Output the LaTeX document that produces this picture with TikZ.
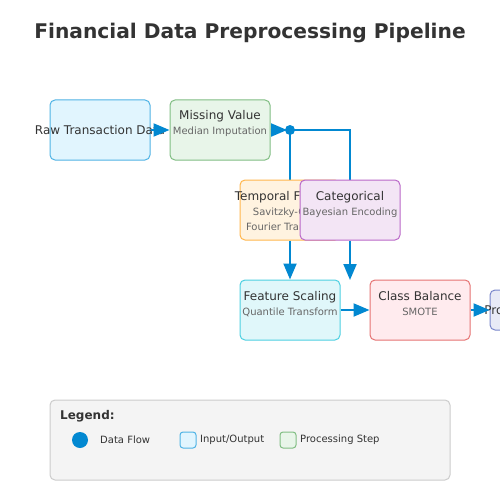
\documentclass[tikz,border=0pt]{standalone}
\usepackage{fontspec}
\setmainfont{DejaVu Sans}
\usetikzlibrary{arrows.meta}
\definecolor{flow}{HTML}{0288D1}
\definecolor{txt}{HTML}{333333}
\definecolor{subtxt}{HTML}{666666}
\tikzset{
  box/.style={draw, rounded corners=5pt, line width=1pt, minimum width=100pt, minimum height=60pt, inner sep=0pt},
  ttl/.style={font=\fontsize{12}{14}\selectfont, text=txt, inner sep=0pt, anchor=base},
  sub/.style={font=\fontsize{10}{12}\selectfont, text=subtxt, inner sep=0pt, anchor=base},
  flowline/.style={draw=flow, line width=2pt},
  flowarrow/.style={flowline, -{Triangle[length=16pt,width=13pt]}},
  legtxt/.style={font=\fontsize{10}{12}\selectfont, text=txt, anchor=west, inner sep=0pt},
}
\begin{document}
\begin{tikzpicture}[x=1pt,y=-1pt]
\useasboundingbox (0,0) rectangle (500,500);
\clip (0,0) rectangle (500,500);
\fill[white] (0,0) rectangle (500,500);
% title
\node[font=\bfseries\fontsize{20.2}{24}\selectfont, text=txt] (title) at (250,33) {Financial Data Preprocessing Pipeline};
% coordinates
\coordinate (j) at (290,130);
\coordinate (catend) at (350,280);
% connectors (behind boxes)
\draw[flowline] (j) -- (290,180) coordinate (tn);
\draw[flowline] (j) -| (350,180) coordinate (cn);
% boxes
\node[box, fill={rgb,255:red,225;green,245;blue,254}, draw={rgb,255:red,79;green,179;blue,229}] (raw) at (100,130) {};
\node[ttl, anchor=center] (rawt) at (100,130) {Raw Transaction Data};
\node[box, fill={rgb,255:red,232;green,245;blue,233}, draw={rgb,255:red,129;green,190;blue,131}] (mv) at (220,130) {};
\node[ttl] (mvt) at (220,120) {Missing Value};
\node[sub] (mvs) at (220,135) {Median Imputation};
\node[box, fill={rgb,255:red,255;green,243;blue,224}, draw={rgb,255:red,255;green,183;blue,77}] (tf) at (290,210) {};
\node[ttl] (tft) at (290,200) {Temporal Features};
\node[sub] (tfs) at (290,215) {Savitzky-Golay};
\node[sub] (tfs2) at (290,230) {Fourier Transform};
\node[box, fill={rgb,255:red,243;green,229;blue,245}, draw={rgb,255:red,186;green,104;blue,200}] (cat) at (350,210) {};
\node[ttl] (catt) at (350,200) {Categorical};
\node[sub] (cats) at (350,215) {Bayesian Encoding};
\node[box, fill={rgb,255:red,224;green,247;blue,250}, draw={rgb,255:red,77;green,208;blue,225}] (fs) at (290,310) {};
\node[ttl] (fst) at (290,300) {Feature Scaling};
\node[sub] (fss) at (290,315) {Quantile Transform};
\node[box, fill={rgb,255:red,255;green,235;blue,238}, draw={rgb,255:red,229;green,115;blue,115}] (cb) at (420,310) {};
\node[ttl] (cbt) at (420,300) {Class Balance};
\node[sub] (cbs) at (420,315) {SMOTE};
\node[box, minimum height=40pt, fill={rgb,255:red,232;green,234;blue,246}, draw={rgb,255:red,121;green,134;blue,203}] (pd) at (540,310) {};
\node[ttl, anchor=center] (pdt) at (540,310) {Processed Dataset};
% arrows
\draw[flowarrow] (raw.east) -- (mv.west);
\draw[flowarrow, shorten >=3pt] (mv.east) -- (j);
\fill[flow] (j) circle (5pt);
\draw[flowarrow] (tf.south) -- (fs.north);
\draw[flowarrow] (cat.south) -- (catend);
\draw[flowarrow] (fs.east) -- (cb.west);
\draw[flowarrow] (cb.east) -- (pd.west);
% legend
\node[draw={rgb,255:red,204;green,204;blue,204}, fill={rgb,255:red,244;green,244;blue,244}, rounded corners=5pt, line width=1pt, minimum width=400pt, minimum height=80pt, inner sep=0pt] (leg) at (250,440) {};
\node[font=\bfseries\fontsize{12}{14}\selectfont, text=txt, anchor=west, inner sep=0pt] (legt) at (60,416) {Legend:};
\fill[flow] (80,440) circle (8pt);
\node[legtxt] (l1) at (100,440) {Data Flow};
\node[draw={rgb,255:red,79;green,179;blue,229}, fill={rgb,255:red,225;green,245;blue,254}, rounded corners=3pt, line width=1pt, minimum size=16pt, inner sep=0pt] (sq1) at (188,440) {};
\node[legtxt] (l2) at (200,440) {Input/Output};
\node[draw={rgb,255:red,129;green,190;blue,131}, fill={rgb,255:red,232;green,245;blue,233}, rounded corners=3pt, line width=1pt, minimum size=16pt, inner sep=0pt] (sq2) at (288,440) {};
\node[legtxt] (l3) at (300,440) {Processing Step};
\end{tikzpicture}
\end{document}
